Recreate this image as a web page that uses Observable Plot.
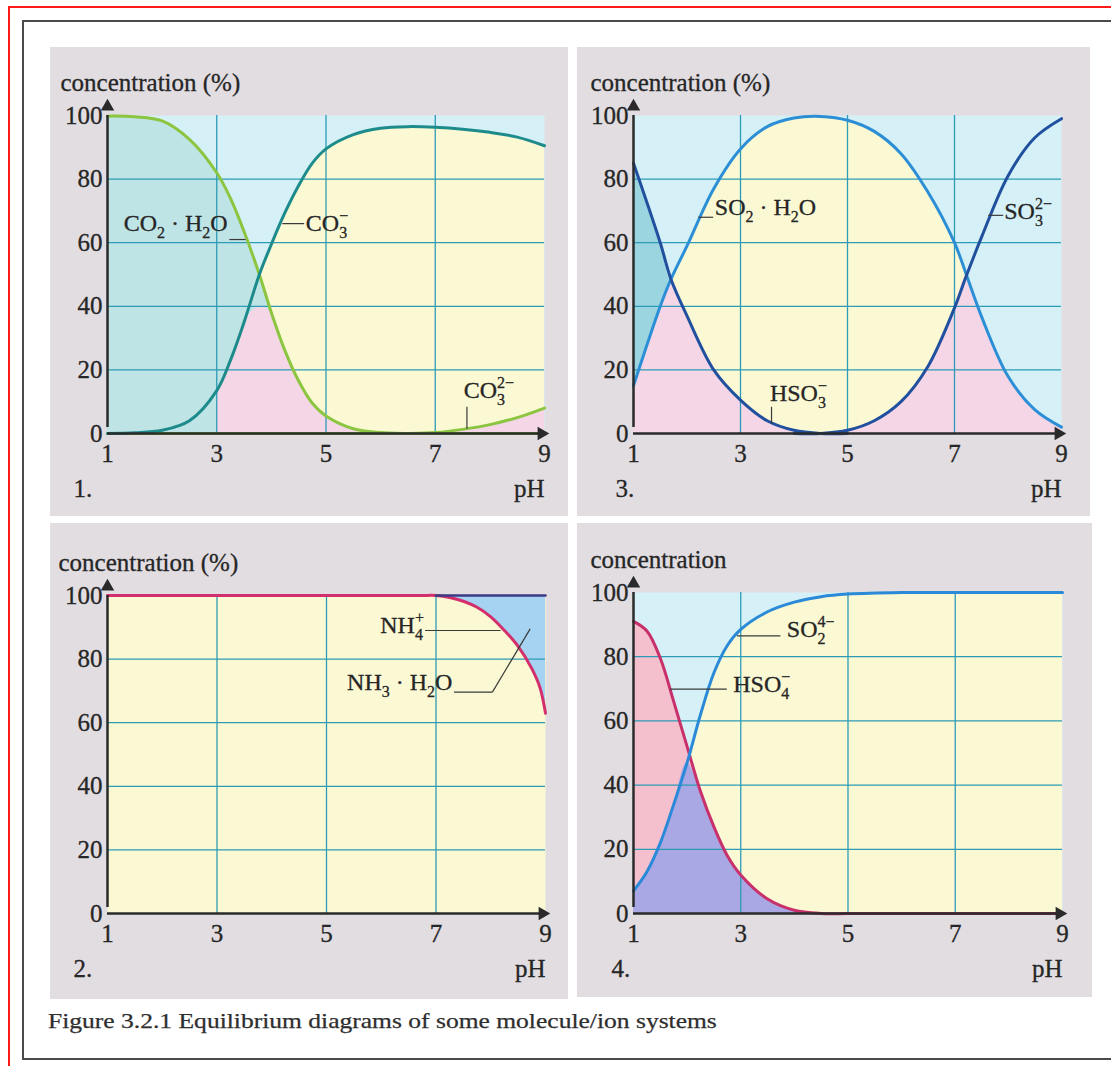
<!DOCTYPE html>
<html>
<head>
<meta charset="utf-8">
<script src="https://cdn.jsdelivr.net/npm/d3@7"></script>
<script src="https://cdn.jsdelivr.net/npm/@observablehq/plot@0.6"></script>
<style>
  body { margin: 0; background: #fff; }
  #page { position: relative; width: 1111px; height: 1066px; overflow: hidden; background: #fff;
          font-family: "Liberation Serif", "Times New Roman", serif; }
  .red { position: absolute; left: 8px; top: 6px; width: 1300px; height: 1300px; border: 2px solid #ff1a1a; box-sizing: border-box; }
  .frame { position: absolute; left: 22px; top: 20px; width: 1300px; height: 1040px; border: 2px solid #4a4a4a; box-sizing: border-box; }
  .panel { position: absolute; background: #e1dde1; }
  .panel svg { display: block; }
  .panel svg text { stroke: #262626; stroke-width: 0.3px; }
  .caption { position: absolute; left: 48px; top: 1011px; font-size: 21px; line-height: 21px; color: #2e2e2e;
             white-space: nowrap; transform-origin: 0 0; -webkit-text-stroke: 0.25px #2e2e2e; }
</style>
</head>
<body>
<div id="page">
  <div class="red"></div>
  <div class="frame"></div>
  <div class="caption" id="caption">Figure 3.2.1 Equilibrium diagrams of some molecule/ion systems</div>
</div>
<script>
// ---------- shared axis values ----------
const xDomain = [1, 9];
const yDomain = [0, 100];
const xTicks = [1, 3, 5, 7, 9];
const yTicks = [0, 20, 40, 60, 80, 100];
const gridXTicks = [3, 5, 7];
const gridYTicks = [20, 40, 60, 80];

// ---------- panel 1: carbonate ----------
const ph1      = [1, 1.5, 2, 2.5, 3, 3.25, 3.5, 3.78, 4, 4.25, 4.5, 4.75, 5, 5.5, 6, 6.5, 7, 7.5, 8, 8.5, 9];
const co2h2o1  = [99.8, 99.6, 98.3, 92.5, 82, 74, 63.5, 50, 38, 26, 16.5, 9.5, 5.5, 1.5, 0.3, 0, 0, 0, 0, 0, 0];
const co3m1    = [0, 0.2, 1, 4, 13.5, 23, 35, 50, 59.5, 69.5, 78, 85, 89.5, 94, 96, 96.5, 96.3, 95.7, 94.7, 93.2, 90.5];
const co32m1   = [0, 0, 0, 0, 0, 0, 0, 0, 0, 0, 0, 0, 0, 0, 0, 0, 0.3, 1.3, 2.8, 5, 8];
const pinkCap1 = 40;
const labels1 = [
  {t: "CO_{2} · H_{2}O", x: 3.2, y: 66, a: "end"},
  {t: "CO_{3}^{−}", x: 4.63, y: 66, a: "start"},
  {t: "CO_{3}^{2−}", x: 7.52, y: 13.5, a: "start"}
];
const leaders1 = [
  {x1: 3.23, y1: 61, x2: 3.53, y2: 61},
  {x1: 4.2, y1: 66, x2: 4.6, y2: 66},
  {x1: 7.58, y1: 8.4, x2: 7.58, y2: 1.5}
];

// ---------- panel 2: ammonium ----------
const ph2     = [1, 3, 5, 6, 6.5, 6.75, 7, 7.25, 7.5, 7.75, 8, 8.25, 8.5, 8.75, 8.9, 9];
const nh4p2   = [100, 100, 100, 100, 100, 100, 100, 99.4, 98.2, 96.3, 93.3, 89, 84, 77, 71, 63];
const total2  = 100;
const labels2 = [
  {t: "NH_{4}^{+}", x: 6.78, y: 90.6, a: "end"},
  {t: "NH_{3} · H_{2}O", x: 7.3, y: 72.8, a: "end"}
];
const leaders2 = [
  {x1: 6.8, y1: 89, x2: 8.18, y2: 89},
  {x1: 7.33, y1: 69.6, x2: 8.03, y2: 69.6},
  {x1: 8.03, y1: 69.6, x2: 8.72, y2: 89.5}
];

// ---------- panel 3: sulfite ----------
const ph3     = [1, 1.5, 1.7, 2, 2.5, 3, 3.5, 4, 4.5, 5, 5.5, 6, 6.5, 7, 7.22, 7.5, 8, 8.5, 9];
const hso3m3  = [15, 40, 48.5, 59, 77, 89.5, 96.5, 99.2, 99.7, 98.5, 95, 88, 76, 60, 50, 37, 18, 7.5, 2];
const so2h2o3 = [85, 60, 48.5, 37, 20, 10.5, 4, 1, 0, 0, 0, 0, 0, 0, 0, 0, 0, 0, 0];
const so32m3  = [0, 0, 0, 0, 0, 0, 0, 0, 0, 1, 4, 10, 21, 39.5, 49.5, 61.5, 81, 93, 99];
const labels3 = [
  {t: "SO_{2} · H_{2}O", x: 2.52, y: 71, a: "start"},
  {t: "SO_{3}^{2−}", x: 7.93, y: 70, a: "start"},
  {t: "HSO_{3}^{−}", x: 3.55, y: 12.6, a: "start"}
];
const leaders3 = [
  {x1: 2.21, y1: 68, x2: 2.49, y2: 68},
  {x1: 7.63, y1: 68.6, x2: 7.91, y2: 68.6},
  {x1: 3.58, y1: 8.4, x2: 3.58, y2: 3.1}
];

// ---------- panel 4: sulfate ----------
const ph4     = [1, 1.25, 1.5, 1.75, 2, 2.25, 2.5, 2.75, 3, 3.5, 4, 4.5, 5, 6, 7, 8, 9];
const hso4m4  = [91, 88, 79.5, 66, 52, 38, 27, 18, 12, 4.5, 1, 0, 0, 0, 0, 0, 0];
const so4m4   = [7, 13, 22, 34, 47, 62, 75, 83.5, 88.5, 94, 97, 98.7, 99.5, 100, 100, 100, 100];
const labels4 = [
  {t: "SO_{2}^{4−}", x: 3.86, y: 88.6, a: "start"},
  {t: "HSO_{4}^{−}", x: 2.86, y: 71.4, a: "start"}
];
const leaders4 = [
  {x1: 2.93, y1: 86.5, x2: 3.74, y2: 86.5},
  {x1: 1.68, y1: 69.9, x2: 2.74, y2: 69.9}
];

// ---------- styles ----------
const FONT = '"Liberation Serif", "Times New Roman", serif';
const C = {
  cyan: "#d5f1f7", yellow: "#fbf9d4", pink: "#f4d6e7", tealFill: "#bfe4e5", tealFill3: "#9bd5df",
  green: "#8cc540", teal: "#1d8b8c", dome: "#2c8fd6", navy: "#21509f",
  magenta: "#d42f6d", navy2: "#3b3a86", blue2: "#a5d3f1",
  pink4: "#f5c0ce", purple4: "#a9a7e4", magenta4: "#c8306b", blue4: "#2a8ad7",
  grid: "#2d9bb6", axis: "#2a2a2a", text: "#262626"
};
const curve = "catmull-rom";
const TICK_FS = 25, LABEL_FS = 24;

const layout = {
  p1: {left: 50, top: 47, width: 518, height: 469, mL: 57, mR: 24, mT: 68, mB: 83, numDx: -34, labDx: -47},
  p3: {left: 577, top: 47, width: 513, height: 469, mL: 56, mR: 29, mT: 68, mB: 83, numDx: -18, labDx: -43},
  p2: {left: 50, top: 523, width: 518, height: 476, mL: 57, mR: 23, mT: 72, mB: 86, numDx: -34, labDx: -49},
  p4: {left: 577, top: 523, width: 515, height: 474, mL: 56, mR: 30, mT: 69, mB: 84, numDx: -22, labDx: -43}
};

// turn "_{..}" / "^{..}" markup into stacked sub/superscript tspans
function richText(svg, fs) {
  const NS = "http://www.w3.org/2000/svg";
  const small = Math.round(fs * 0.66);
  const subOff = Math.round(fs * 0.28), supOff = -Math.round(fs * 0.42);
  svg.querySelectorAll("text").forEach(t => {
    const s = t.textContent;
    if (!/[_^]\{/.test(s)) return;
    t.textContent = "";
    let cur = 0;
    const add = (txt, size, off, dx) => {
      const ts = document.createElementNS(NS, "tspan");
      ts.textContent = txt;
      if (size) ts.setAttribute("font-size", size);
      if (off - cur) ts.setAttribute("dy", off - cur);
      if (dx) ts.setAttribute("dx", dx);
      cur = off;
      t.appendChild(ts);
    };
    const re = /_\{([^}]*)\}(?:\^\{([^}]*)\})?|\^\{([^}]*)\}|([^_^]+)/g;
    let m;
    while ((m = re.exec(s))) {
      if (m[1] !== undefined) {
        add(m[1], small, subOff);
        if (m[2] !== undefined) add(m[2], small, supOff, -m[1].length * small * 0.5);
      } else if (m[3] !== undefined) {
        add(m[3], small, supOff);
      } else {
        add(m[4], null, 0);
      }
    }
  });
}

function buildPanel(id, cfg) {
  const L = layout[id];
  const marks = [
    Plot.frame({fill: cfg.bg, stroke: "none"}),
    ...cfg.fills,
    Plot.gridX(gridXTicks, {stroke: C.grid, strokeOpacity: 1, strokeWidth: 1.3}),
    Plot.gridY(gridYTicks, {stroke: C.grid, strokeOpacity: 1, strokeWidth: 1.3}),
    ...cfg.lines,
    Plot.link(cfg.leaders, {x1: "x1", y1: "y1", x2: "x2", y2: "y2", stroke: "#3a3a3a", strokeWidth: 1.2}),
    Plot.text(cfg.labels.filter(d => d.a === "start"), {x: "x", y: "y", text: "t", textAnchor: "start", lineAnchor: "middle", fontSize: LABEL_FS, fill: C.text}),
    Plot.text(cfg.labels.filter(d => d.a === "end"), {x: "x", y: "y", text: "t", textAnchor: "end", lineAnchor: "middle", fontSize: LABEL_FS, fill: C.text}),
    Plot.ruleY([yDomain[0]], {x1: xDomain[0], x2: xDomain[1], stroke: C.axis, strokeWidth: 2.5}),
    Plot.ruleX([xDomain[0]], {y1: yDomain[0], y2: yDomain[1], stroke: C.axis, strokeWidth: 2.5, insetTop: -6}),
    Plot.dot([{x: xDomain[0], y: yDomain[1]}], {x: "x", y: "y", symbol: "triangle", r: 5, fill: C.axis, stroke: "none", dy: -9}),
    Plot.dot([{x: xDomain[1], y: yDomain[0]}], {x: "x", y: "y", symbol: "triangle", r: 5, fill: C.axis, stroke: "none", rotate: 90, dx: -3}),
    Plot.axisY(yTicks, {tickSize: 0, tickPadding: 5, fontSize: TICK_FS, label: null, fill: C.text}),
    Plot.axisX(xTicks, {tickSize: 0, tickPadding: 11, fontSize: TICK_FS, label: null, fill: C.text}),
    Plot.text([cfg.ylabel], {frameAnchor: "top-left", textAnchor: "start", lineAnchor: "middle", dx: L.labDx, dy: -33, fontSize: TICK_FS, fill: C.text}),
    Plot.text(["pH"], {frameAnchor: "bottom-right", textAnchor: "end", lineAnchor: "middle", dy: 55, fontSize: TICK_FS, fill: C.text}),
    Plot.text([cfg.num], {frameAnchor: "bottom-left", textAnchor: "start", lineAnchor: "middle", dx: L.numDx, dy: 55, fontSize: TICK_FS, fill: C.text})
  ];
  const svg = Plot.plot({
    width: L.width, height: L.height,
    marginLeft: L.mL, marginRight: L.mR, marginTop: L.mT, marginBottom: L.mB,
    x: {domain: xDomain, axis: null},
    y: {domain: yDomain, axis: null},
    style: {fontFamily: FONT, fontSize: TICK_FS + "px", color: C.text, background: "transparent", overflow: "visible"},
    marks
  });
  richText(svg, LABEL_FS);
  const div = document.createElement("div");
  div.className = "panel";
  Object.assign(div.style, {left: L.left + "px", top: L.top + "px", width: L.width + "px", height: L.height + "px"});
  div.appendChild(svg);
  document.getElementById("page").appendChild(div);
}

// ---------- tables ----------
const t1 = ph1.map((x, i) => ({x, co2: co2h2o1[i], hco3: co3m1[i], co3: co32m1[i]}));
const t2 = ph2.map((x, i) => ({x, nh4: nh4p2[i]}));
const t3 = ph3.map((x, i) => ({x, dome: hso3m3[i], so2: so2h2o3[i], so3: so32m3[i]}));
const t4 = ph4.map((x, i) => ({x, hso4: hso4m4[i], so4: so4m4[i]}));

// panel 1
buildPanel("p1", {
  num: "1.", ylabel: "concentration (%)", bg: C.cyan,
  fills: [
    Plot.areaY(t1, {x: "x", y: "hco3", fill: C.yellow, curve}),
    Plot.areaY(t1, {x: "x", y: "co2", fill: C.tealFill, curve}),
    Plot.areaY(t1.filter(d => d.x >= 3), {x: "x", y: d => Math.min(d.hco3, Math.max(d.co2, d.co3), pinkCap1), fill: C.pink, curve})
  ],
  lines: [
    Plot.line(t1, {x: "x", y: "co2", stroke: C.green, strokeWidth: 3, curve}),
    Plot.line(t1, {x: "x", y: "co3", stroke: C.green, strokeWidth: 3, curve}),
    Plot.line(t1, {x: "x", y: "hco3", stroke: C.teal, strokeWidth: 3, curve})
  ],
  labels: labels1, leaders: leaders1
});

// panel 3
buildPanel("p3", {
  num: "3.", ylabel: "concentration (%)", bg: C.cyan,
  fills: [
    Plot.areaY(t3, {x: "x", y: "dome", fill: C.yellow, curve}),
    Plot.areaY(t3, {x: "x", y: d => Math.min(d.dome, Math.max(d.so2, d.so3)), fill: C.pink, curve}),
    Plot.areaY(t3, {x: "x", y1: "dome", y2: d => Math.max(d.dome, d.so2), fill: C.tealFill3, curve})
  ],
  lines: [
    Plot.line(t3, {x: "x", y: "dome", stroke: C.dome, strokeWidth: 3, curve}),
    Plot.line(t3.filter(d => d.x <= 5), {x: "x", y: "so2", stroke: C.navy, strokeWidth: 3, curve}),
    Plot.line(t3.filter(d => d.x >= 4), {x: "x", y: "so3", stroke: C.navy, strokeWidth: 3, curve})
  ],
  labels: labels3, leaders: leaders3
});

// panel 2
buildPanel("p2", {
  num: "2.", ylabel: "concentration (%)", bg: C.yellow,
  fills: [
    Plot.areaY(t2.filter(d => d.x >= 7), {x: "x", y1: "nh4", y2: () => total2, fill: C.blue2, curve})
  ],
  lines: [
    Plot.line(t2, {x: "x", y: "nh4", stroke: C.magenta, strokeWidth: 3, curve}),
    Plot.line(t2.filter(d => d.x >= 7), {x: "x", y: () => total2, stroke: C.navy2, strokeWidth: 2.5})
  ],
  labels: labels2, leaders: leaders2
});

// panel 4
buildPanel("p4", {
  num: "4.", ylabel: "concentration", bg: C.cyan,
  fills: [
    Plot.areaY(t4, {x: "x", y: "so4", fill: C.yellow, curve}),
    Plot.areaY(t4, {x: "x", y: "hso4", fill: C.pink4, curve}),
    Plot.areaY(t4, {x: "x", y: d => Math.min(d.so4, d.hso4), fill: C.purple4, curve})
  ],
  lines: [
    Plot.line(t4, {x: "x", y: "hso4", stroke: C.magenta4, strokeWidth: 3, curve}),
    Plot.line(t4, {x: "x", y: "so4", stroke: C.blue4, strokeWidth: 3, curve})
  ],
  labels: labels4, leaders: leaders4
});

// caption fitted to the reference width
const cap = document.getElementById("caption");
const w = cap.getBoundingClientRect().width;
cap.style.transform = `scaleX(${(669 / w).toFixed(3)})`;
</script>
</body>
</html>
